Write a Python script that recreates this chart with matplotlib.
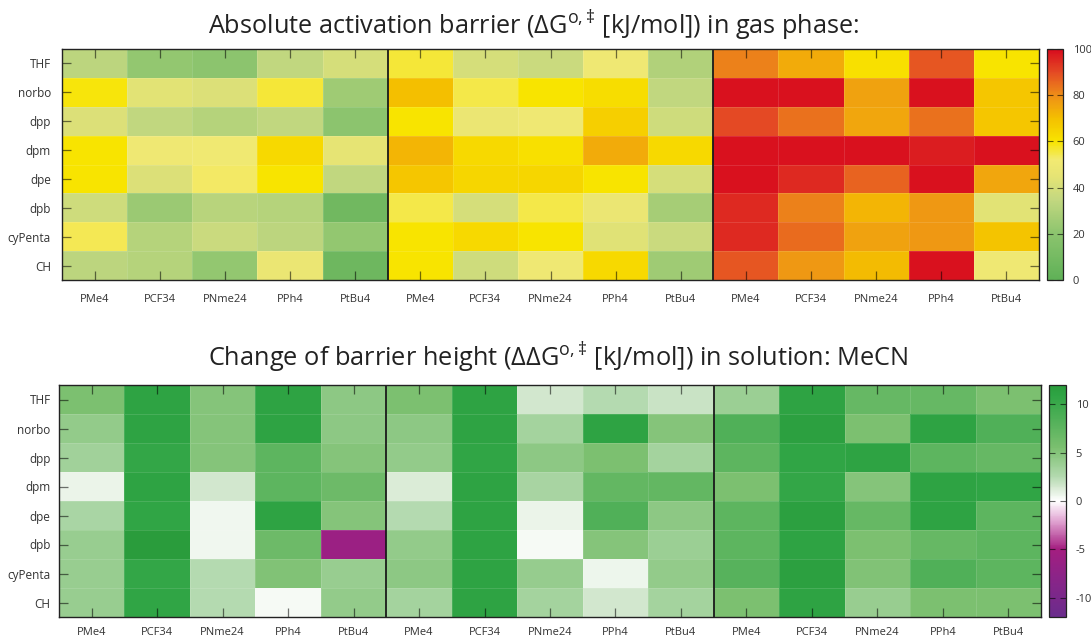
import numpy as np
import matplotlib.pyplot as plt
from matplotlib.colors import LinearSegmentedColormap

plt.rcParams['font.family'] = ['Open Sans', 'DejaVu Sans']
plt.rcParams['mathtext.fontset'] = 'custom'
plt.rcParams['mathtext.rm'] = 'Open Sans'
plt.rcParams['mathtext.it'] = 'Open Sans'
plt.rcParams['axes.unicode_minus'] = False

# row / column labels
rows = ['THF', 'norbo', 'dpp', 'dpm', 'dpe', 'dpb', 'cyPenta', 'CH']
ligands = ['PMe4', 'PCF34', 'PNme24', 'PPh4', 'PtBu4']
cols = ligands * 3

# absolute barrier in gas phase (kJ/mol), three blocks of 5 columns
gas_block1 = [[33, 22, 20, 34, 40],
              [59, 44, 42, 56, 25],
              [42, 34, 31, 34, 20],
              [60, 50, 51, 63, 45],
              [60, 42, 53, 60, 34],
              [38, 24, 32, 31, 8],
              [54, 31, 37, 33, 22],
              [33, 31, 22, 48, 7]]
gas_block2 = [[56, 40, 37, 50, 30],
              [70, 55, 60, 62, 34],
              [60, 48, 50, 66, 38],
              [72, 63, 61, 74, 63],
              [68, 64, 64, 60, 40],
              [55, 40, 55, 48, 27],
              [60, 63, 60, 43, 37],
              [60, 38, 50, 63, 25]]
gas_block3 = [[82, 74, 61, 88, 60],
              [99, 99, 76, 99, 68],
              [90, 84, 75, 84, 68],
              [99, 99, 99, 97, 99],
              [99, 95, 86, 99, 75],
              [95, 82, 72, 78, 44],
              [95, 85, 76, 78, 69],
              [88, 78, 71, 99, 50]]

# change of barrier in MeCN (kJ/mol)
mecn_block1 = [[5.5, 11, 5, 11, 4.5],
               [4.3, 11, 5, 11, 4.5],
               [3.5, 10.5, 5, 7.5, 5],
               [0.7, 11, 1.5, 7.5, 6.5],
               [3, 10.8, 0.5, 11, 5],
               [4, 12, 0.5, 6.5, -6],
               [4, 10.5, 2.5, 5.2, 4],
               [4, 10.8, 2.5, 0.3, 4.3]]
mecn_block2 = [[5.5, 11, 1.5, 2.5, 1.8],
               [4.5, 11, 3.3, 11, 5],
               [4.3, 10.8, 4.5, 5.5, 3.3],
               [1.3, 11, 3.1, 7.2, 7.2],
               [2.5, 11, 0.7, 8.5, 4.5],
               [4.3, 11, 0.3, 5, 3.8],
               [4.5, 11, 4.1, 0.6, 4.3],
               [3.3, 11, 3.3, 1.5, 3.3]]
mecn_block3 = [[3.8, 11, 7, 7, 5.5],
               [8.5, 11.5, 5.5, 11, 8.5],
               [7.5, 10.8, 11, 7.5, 7],
               [5.5, 10.5, 5, 11, 10.8],
               [7.5, 11.5, 7, 11, 7.5],
               [7.5, 11, 5.5, 7, 7.5],
               [8, 11.5, 5.2, 8.5, 7.5],
               [5.5, 11, 4, 5.5, 5.5]]

gas = np.hstack([gas_block1, gas_block2, gas_block3])
mecn = np.hstack([mecn_block1, mecn_block2, mecn_block3])

# colour maps
cmap_gas = LinearSegmentedColormap.from_list('gas', [
    (0.0, '#5fb157'), (0.2, '#8cc46e'), (0.35, '#c4d880'), (0.45, '#e6e474'),
    (0.52, '#f2ea72'), (0.6, '#f8e400'), (0.7, '#f4c000'), (0.8, '#ee8e18'),
    (0.9, '#e44a24'), (1.0, '#d80c1e')])
cmap_diff = LinearSegmentedColormap.from_list('diff', [
    (0.0, '#6a2c8c'), (0.167, '#8a2488'), (0.292, '#a41e80'), (0.417, '#e2a8d4'),
    (0.5, '#ffffff'), (0.5625, '#d4e8d0'), (0.604, '#b4dab0'), (0.729, '#7cc070'),
    (0.854, '#50b058'), (0.958, '#2ea444'), (1.0, '#2a9c3c')])

W, H = 1091, 641
fig = plt.figure(figsize=(W / 100, H / 100), dpi=100)


def box(x0, y0, x1, y1):
    return [x0 / W, 1 - y1 / H, (x1 - x0) / W, (y1 - y0) / H]


def heat(ax, cax, data, cmap, vmin, vmax, ticks, ypad, xpad):
    mesh = ax.pcolormesh(data, cmap=cmap, vmin=vmin, vmax=vmax,
                         edgecolors=(1, 1, 1, 0.12), linewidth=0.5)
    ax.set_xlim(0, data.shape[1])
    ax.set_ylim(data.shape[0], 0)
    ax.set_xticks(np.arange(data.shape[1]) + 0.5)
    ax.set_xticklabels(cols)
    ax.set_yticks(np.arange(data.shape[0]) + 0.5)
    ax.set_yticklabels(rows)
    ax.tick_params(axis='both', direction='in', length=6.5, width=0.9,
                   color=(0, 0, 0, 0.55), top=True, right=True,
                   labelsize=8, labelcolor='#333333')
    ax.tick_params(axis='y', pad=ypad, labelsize=8.5)
    ax.tick_params(axis='x', pad=xpad)
    for s in ax.spines.values():
        s.set_color('#222222')
        s.set_linewidth(1.0)
    for x in (5, 10):
        ax.axvline(x, color='#1a1a1a', lw=1.3)

    cb = fig.colorbar(mesh, cax=cax)
    cb.set_ticks(ticks)
    cb.outline.set_edgecolor('#222222')
    cb.outline.set_linewidth(0.9)
    cax.tick_params(direction='in', left=True, right=True, length=4,
                    width=0.8, color=(0, 0, 0, 0.6), labelsize=8,
                    labelcolor='#333333', pad=7)


ax1 = fig.add_axes(box(62, 49, 1039, 280))
cax1 = fig.add_axes(box(1047, 49, 1063, 280))
heat(ax1, cax1, gas, cmap_gas, 0, 100, [0, 20, 40, 60, 80, 100], 8, 10)
fig.text(534 / W, 1 - 26 / H,
         'Absolute activation barrier (ΔG$^{\\mathrm{o,‡}}$ [kJ/mol]) in gas phase:',
         ha='center', va='center', fontsize=18.2, color='#222222')

ax2 = fig.add_axes(box(59, 385, 1041, 617))
cax2 = fig.add_axes(box(1049, 385, 1066, 617))
heat(ax2, cax2, mecn, cmap_diff, -12, 12, [-10, -5, 0, 5, 10], 6, 7)
fig.text(558 / W, 1 - 358 / H,
         'Change of barrier height (ΔΔG$^{\\mathrm{o,‡}}$ [kJ/mol]) in solution: MeCN',
         ha='center', va='center', fontsize=18.3, color='#222222')

fig.savefig('out.png', dpi=100)
